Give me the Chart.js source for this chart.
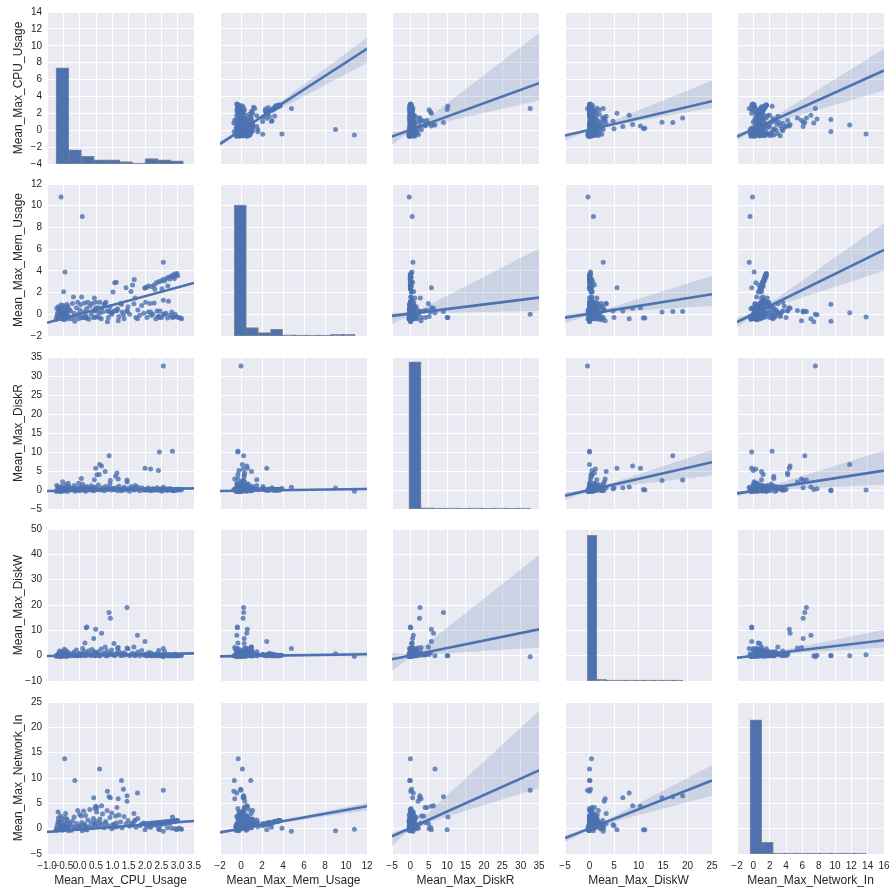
<!DOCTYPE html>
<html>
<head>
<meta charset="utf-8">
<script src="https://cdn.jsdelivr.net/npm/chart.js@4.4.1/dist/chart.umd.min.js"></script>
<style>
  body { margin: 0; background: #fff; width: 895px; height: 893px; position: relative; overflow: hidden; }
  canvas { position: absolute; }
</style>
</head>
<body>
<script>
// variable order everywhere: cpu, mem, diskR, diskW, networkIn
const varNames = ['Mean_Max_CPU_Usage', 'Mean_Max_Mem_Usage', 'Mean_Max_DiskR', 'Mean_Max_DiskW', 'Mean_Max_Network_In'];

// x axis of each column, y axis of each row
const colMin = [-1, -2, -5, -5, -2];
const colMax = [3.5, 12, 35, 25, 16];
const colStep = [0.5, 2, 5, 5, 2];
const rowMin = [-4, -2, -5, -10, -5];
const rowMax = [14, 12, 35, 50, 25];
const rowStep = [2, 2, 5, 10, 5];

// diagonal histograms (bar heights above the bottom of the axis)
const histStart = [-0.725, -0.64, -0.4, -0.45, -0.4];
const histWidth = [0.39, 1.15, 3.3, 1.95, 1.42];
const cpuHist = [11.4, 1.67, 0.92, 0.48, 0.48, 0.28, 0.12, 0.63, 0.5, 0.38];
const memHist = [12.05, 0.77, 0.31, 0.62, 0.1, 0.09, 0.09, 0.09, 0.15, 0.15];
const diskRHist = [38.7, 0.3, 0.26, 0.26, 0.26, 0.26, 0.26, 0.26, 0.26, 0.26];
const diskWHist = [57.5, 0.7, 0.39, 0.39, 0.39, 0.39, 0.39, 0.39, 0.39, 0.39];
const netHist = [26.5, 2.3, 0.2, 0.2, 0.2, 0.2, 0.2, 0.2, 0.2, 0.2];
const hists = [cpuHist, memHist, diskRHist, diskWHist, netHist];

// samples [cpu, mem, diskR, diskW, networkIn]
const outliers = [
  [-0.57, 10.8, -0.3, -0.3, -0.1], [0.08, 9.0, 0.5, 0.8, -0.4], [2.56, 4.8, 0.7, 2.8, -0.5],
  [-0.45, 3.9, 0.4, 0.2, 0.1], [2.56, 0.0, 32.6, -0.4, 7.6], [2.84, -0.3, 10.2, 0.0, 2.3],
  [2.44, -0.3, 10.0, 0.0, -0.2], [0.9, 0.25, 9.0, 17.0, 6.3], [1.45, 0.25, 2.6, 19.0, 6.5],
  [0.94, 0.2, 2.5, 14.8, 6.1], [0.2, -0.35, 0.1, 11.0, -0.2], [0.22, -0.35, 0.0, 11.3, -0.2],
  [0.49, 0.6, 5.7, 10.4, 4.4], [0.67, 0.55, 6.3, 8.8, 4.5], [1.77, -0.4, 0.8, 8.1, 7.05],
  [0.43, 0.3, 0.6, 6.8, 6.1], [2.0, 2.45, 5.7, 5.6, -0.2], [0.16, -0.3, 0.5, 5.0, 0.6],
  [1.05, 0.3, 0.3, 4.8, 0.8], [-0.46, -0.26, 0.0, 0.4, 13.8], [0.61, 0.13, 6.7, 0.0, 11.8],
  [-0.15, -0.64, 0.0, 0.0, 9.5], [1.28, 0.93, -0.2, 0.1, 9.5], [0.85, -0.68, 0.1, 0.0, 7.4],
  [1.34, -0.04, 0.3, 0.2, 7.8], [1.45, 0.35, 2.1, 3.0, 5.4], [1.18, -0.6, 2.9, 3.2, 5.9],
  [0.53, 0.3, 4.0, 0.5, 4.2], [0.47, -0.3, 0.2, 0.0, 4.0], [0.98, 0.1, 0.4, 0.6, 3.1],
  [1.14, 0.35, 4.5, 1.0, 4.2], [2.17, 0.2, 5.5, 1.2, 0.3], [2.41, -0.2, 5.1, 0.5, 0.0],
  [0.78, 1.0, 4.9, 3.4, 1.0], [1.1, 0.3, 3.6, 0.4, 2.5], [0.6, -0.3, 4.1, 0.3, 1.2],
  [0.05, -0.3, 3.0, 0.2, 2.5], [-0.03, 0.0, 1.8, 0.0, 0.5], [0.45, 1.5, 2.7, 1.5, 1.0],
  [-0.49, 2.07, 0.3, 0.5, 0.6]
];
const lowCpu = [
  [-0.72, -0.45, -0.3, -0.2, -0.3], [-0.70, -0.2, -0.2, 0.1, 0.2], [-0.68, 0.1, 0.0, 0.3, 0.8],
  [-0.66, 0.45, 0.3, 0.6, 1.4], [-0.65, 0.7, 0.5, 0.2, 2.1], [-0.63, -0.4, -0.4, -0.3, -0.2],
  [-0.61, 0.0, 0.2, 0.9, 0.5], [-0.60, 0.3, -0.1, 1.2, 1.0], [-0.58, 0.6, 0.6, 0.0, 2.5],
  [-0.56, -0.3, 0.0, 0.4, 0.0], [-0.55, 0.15, 1.0, 1.6, 1.8], [-0.53, 0.5, -0.3, -0.1, -0.3],
  [-0.51, -0.45, 0.3, 0.2, 0.3], [-0.50, 0.8, 0.1, 0.7, 1.2], [-0.48, 0.25, -0.2, -0.2, 0.6],
  [-0.46, -0.1, 0.4, 1.0, 2.2], [-0.44, 0.6, 0.0, 0.1, -0.1], [-0.42, -0.35, 1.4, 2.0, 0.9],
  [-0.40, 0.35, 0.2, -0.3, 0.2], [-0.38, 0.05, -0.4, 0.5, 1.6], [-0.36, 0.7, 0.6, 1.3, 0.4],
  [-0.34, -0.2, 0.0, 0.0, -0.4], [-0.32, 0.45, 0.9, 0.3, 1.1], [-0.70, 0.55, 1.2, 0.0, 0.0],
  [-0.66, -0.1, 0.8, 0.5, 3.3], [-0.62, 0.2, 0.4, 1.8, 1.3], [-0.57, 0.85, -0.2, 0.6, 0.7],
  [-0.52, 0.0, 2.2, 0.2, 0.1], [-0.47, -0.5, -0.1, 2.5, 0.5], [-0.43, 0.15, 0.5, 0.8, 3.0],
  [-0.39, 0.9, 0.2, 0.0, 1.9], [-0.35, -0.4, 1.8, 1.1, 0.3]
];
const nearZeroCpu = [
  [-0.28, 0.3, 0.1, 0.4, 0.8], [-0.25, -0.4, 0.0, 0.0, -0.3], [-0.22, 1.0, 0.4, 0.8, 1.5],
  [-0.19, 1.6, 0.2, 0.3, 0.4], [-0.17, 0.1, 1.2, 1.4, 2.3], [-0.14, -0.2, -0.3, 0.2, 0.2],
  [-0.10, 0.6, 0.6, 2.2, 1.0], [-0.06, 1.1, 0.0, 0.0, 3.6], [-0.03, -0.4, 0.3, 0.6, 0.1],
  [0.0, 0.4, -0.2, 1.0, 2.8], [0.03, 0.9, 0.8, 0.0, 0.6], [0.06, 1.6, 0.1, 0.5, 1.2],
  [0.09, -0.3, 1.5, 2.8, 0.0], [0.12, 0.2, 0.0, 0.2, 3.5], [0.15, 1.05, 0.4, 1.6, 0.9],
  [0.18, -0.1, -0.3, 0.0, 2.6], [0.21, 0.5, 0.9, 0.9, 0.3], [0.25, 1.1, 0.2, 0.3, 1.7],
  [0.28, -0.45, 0.5, 1.9, 0.4], [0.31, 0.75, 0.0, 0.5, 3.8], [0.35, 0.0, 1.1, 0.0, 1.2],
  [0.38, 1.0, 0.3, 2.4, 0.2], [0.42, -0.3, -0.2, 0.8, 2.0], [0.46, 0.4, 0.7, 0.1, 0.7],
  [0.49, 1.1, 0.0, 1.2, 1.5]
];
const midCpu = [
  [0.52, -0.2, 0.4, 0.3, 3.3], [0.57, 0.6, 1.3, 1.5, 0.5], [0.62, 1.1, 0.0, 0.0, 1.9],
  [0.66, -0.4, 0.2, 2.6, 0.9], [0.70, 0.2, 0.6, 0.6, 2.9], [0.75, 0.9, -0.2, 1.0, 0.2],
  [0.80, 1.1, 0.9, 0.0, 1.4], [0.84, 0.3, 0.1, 1.8, 3.6], [0.88, -0.3, 0.5, 0.4, 0.6],
  [0.93, 0.7, 1.6, 0.9, 2.2], [0.98, 0.0, 0.0, 2.2, 0.0], [1.02, 2.05, 0.3, 0.3, 0.8],
  [1.07, 2.9, 0.1, 0.1, 0.3], [1.12, 2.95, 0.6, 0.7, 1.1], [1.16, 0.5, -0.2, 2.9, 0.4],
  [1.20, -0.2, 1.0, 1.6, 2.7], [1.25, 1.0, 0.2, 0.2, 1.3], [1.30, 0.2, 0.0, 0.8, 0.2],
  [1.36, -0.4, 0.7, 1.2, 2.4], [1.42, 2.45, 0.0, 0.4, 0.9], [1.48, 0.7, 0.4, 2.7, 1.6],
  [1.53, 0.0, -0.3, 0.0, 0.5], [1.57, 2.1, 0.9, 0.5, 1.0], [1.62, 2.7, 0.2, 1.0, 0.7],
  [1.67, 3.2, 0.0, 0.2, 1.4], [1.66, 0.97, 0.5, 3.4, 3.0], [1.72, -0.3, 0.1, 0.6, 0.3],
  [1.78, 0.4, 0.3, 1.4, 2.0], [1.84, -0.1, -0.2, 0.0, 0.6], [1.90, 0.8, 0.6, 2.0, 0.9],
  [1.96, 0.1, 0.0, 0.3, 1.1], [1.70, 1.5, 1.2, 0.0, 1.7]
];
const highCpu = [
  [2.02, 1.1, 0.2, 0.5, 0.9], [2.06, -0.3, 0.0, 0.0, 0.4], [2.10, 0.2, 0.5, 1.2, 0.8],
  [2.15, 1.0, 0.0, 0.3, 1.0], [2.19, -0.1, -0.2, 0.0, 0.5], [2.24, 0.0, 0.3, 0.6, 0.9],
  [2.28, 1.05, 0.1, 0.1, 1.1], [2.33, -0.4, 0.0, 0.0, 0.7], [2.37, 0.3, 0.6, 0.9, 1.0],
  [2.42, -0.2, 0.0, 2.0, 1.2], [2.46, 0.3, 0.2, 0.2, 0.6], [2.51, -0.3, -0.3, 0.0, 1.1],
  [2.56, 1.3, 0.4, 0.5, 1.2], [2.60, 0.0, 0.0, 1.5, 0.9], [2.64, 0.1, 0.3, 0.1, 1.3],
  [2.69, -0.35, 0.0, 0.0, 0.2], [2.72, 1.2, 0.1, 0.4, 1.4], [2.77, -0.1, 0.4, 0.0, 1.0],
  [2.82, 0.2, 0.0, 0.3, 0.1], [2.87, -0.25, -0.2, 0.0, 1.5], [2.92, 0.0, 0.1, 0.6, 0.0],
  [2.97, -0.25, 0.0, 0.0, -0.2], [3.03, -0.3, 0.2, 0.1, 0.1], [3.09, -0.35, 0.0, 0.0, 0.0],
  [3.12, -0.4, 0.1, 0.2, -0.1]
];
const highCpuMem = [
  [2.00, 2.4, 0.0, 0.3, 0.9], [2.05, 2.5, 0.1, 0.0, 1.0], [2.10, 2.6, 0.0, 0.2, 1.0],
  [2.20, 2.55, 0.2, 0.0, 1.1], [2.28, 2.7, 0.0, 0.4, 1.1], [2.35, 2.9, 0.1, 0.0, 1.2],
  [2.42, 3.0, 0.0, 0.2, 1.2], [2.48, 3.05, 0.2, 0.0, 1.25], [2.55, 3.2, 0.0, 0.5, 1.3],
  [2.60, 3.1, 0.1, 0.0, 1.3], [2.66, 3.3, 0.0, 0.1, 1.35], [2.72, 3.4, 0.2, 0.0, 1.4],
  [2.76, 3.25, 0.0, 0.3, 1.4], [2.80, 3.5, 0.1, 0.0, 1.45], [2.84, 3.6, 0.0, 0.2, 1.5],
  [2.88, 3.45, 0.0, 0.0, 1.5], [2.91, 3.7, 0.1, 0.1, 1.55], [2.95, 3.65, 0.0, 0.0, 1.55],
  [2.98, 3.75, 0.2, 0.2, 1.6], [3.00, 3.55, 0.0, 0.0, 1.6], [2.52, 2.35, 0.0, 0.0, 1.0],
  [2.30, 2.3, 0.1, 0.1, 0.8], [2.70, 2.6, 0.0, 0.3, 1.2], [2.90, 3.3, 0.0, 0.0, 1.4]
];
const samples = [...lowCpu, ...nearZeroCpu, ...midCpu, ...highCpu, ...highCpuMem, ...outliers];

// regression fit: y at the left / right edge of each panel
const fitEnds = [
  [null, [-1.62, 9.64], [-0.75, 5.57], [-0.63, 3.44], [-0.75, 7.07]],
  [[-0.78, 2.89], null, [-0.15, 1.54], [-0.31, 1.85], [-0.71, 5.94]],
  [[-0.26, 0.44], [-0.26, 0.26], null, [-1.5, 7.3], [-0.9, 5.1]],
  [[-0.13, 0.92], [-0.26, 0.53], [-1.45, 10.4], null, [-0.8, 6.07]],
  [[-0.65, 1.5], [-0.73, 4.42], [-1.5, 11.5], [-1.85, 9.5], null]
];
// confidence band [low, high] at the left and right edges, and where it is narrowest
const bandLeft = [
  [null, [-1.95, -1.3], [-1.7, -0.24], [-1.2, -0.43], [-1.23, -0.36]],
  [[-0.88, -0.68], null, [-0.92, 0.15], [-0.83, 0.0], [-1.23, -0.31]],
  [[-0.5, -0.05], [-0.6, 0.1], null, [-2.6, -0.6], [-1.76, -0.35]],
  [[-0.6, 0.3], [-0.8, 0.3], [-6.0, 1.0], null, [-1.45, -0.1]],
  [[-0.85, -0.45], [-1.0, -0.45], [-3.4, -0.8], [-2.7, -1.3], null]
];
const bandRight = [
  [null, [7.98, 10.95], [3.52, 11.5], [2.65, 5.9], [4.7, 9.65]],
  [[2.75, 3.02], null, [0.31, 6.06], [0.77, 3.54], [4.0, 8.4]],
  [[0.2, 0.7], [-0.2, 0.7], null, [3.8, 10.5], [1.4, 10.4]],
  [[0.5, 1.3], [-0.3, 1.4], [3.2, 39.7], null, [3.2, 10.2]],
  [[1.2, 1.8], [3.6, 5.1], [8.0, 23.2], [6.5, 12.5], null]
];
const bandNarrow = [
  [null, 0.5, 1, 1, 0.5],
  [1, null, 0.8, 0.8, 0.5],
  [1, 0.5, null, 0.8, 0.5],
  [1, 0.5, 0.5, null, 0.5],
  [1, 0.5, 0.5, 0.8, null]
];

// layout
const colLeft = [47, 220, 392, 565, 737];
const rowTop = [12, 184, 357, 529, 702];
const cellW = 147, cellH = 152;
const leftGutter = 47, bottomGutter = 39;
const margin = 14; // room for tick labels that hang over the panel edges

const blue = '#4C72B0';
const textColor = '#262626';
const fontFamily = '"Liberation Sans", Arial, Helvetica, sans-serif';

const panelBg = {
  id: 'panelBg',
  beforeDraw(chart) {
    const { ctx, chartArea: a } = chart;
    ctx.save();
    ctx.fillStyle = '#EAEAF2';
    ctx.fillRect(a.left, a.top, a.right - a.left, a.bottom - a.top);
    ctx.restore();
  }
};

function tickLabel(v, step) {
  if (Math.abs(v) < 1e-9) v = 0;
  const s = step < 1 ? v.toFixed(1) : String(Math.round(v));
  return s.replace('-', '\u2212');
}

function axis(min, max, step, show, title, horizontal) {
  return {
    type: 'linear', min, max, offset: false,
    ticks: {
      stepSize: step, autoSkip: false, maxRotation: 0, minRotation: 0,
      display: show, padding: horizontal ? 6 : 5, color: textColor,
      font: { family: fontFamily, size: 10 },
      callback: v => tickLabel(v, step)
    },
    grid: { color: '#ffffff', lineWidth: 1, drawTicks: false, offset: false },
    border: { display: false },
    title: {
      display: show, text: title, color: textColor,
      font: { family: fontFamily, size: 12 },
      padding: horizontal ? { top: 0, bottom: 5 } : { top: 11, bottom: 0 }
    },
    afterFit: s => {
      if (horizontal) s.height = show ? bottomGutter : 0;
      else s.width = show ? leftGutter : 0;
      s.paddingLeft = 0; s.paddingRight = 0;
      s.paddingTop = 0; s.paddingBottom = 0;
    }
  };
}

function bandPoints(r, c) {
  const x0 = colMin[c], x1 = colMax[c], xm = bandNarrow[r][c];
  const [yL, yR] = fitEnds[r][c];
  const fit = x => yL + (yR - yL) * (x - x0) / (x1 - x0);
  const upL = bandLeft[r][c][1] - yL, loL = yL - bandLeft[r][c][0];
  const upR = bandRight[r][c][1] - yR, loR = yR - bandRight[r][c][0];
  const h0 = 0.25 * Math.min(upL, loL, upR, loR);
  const spread = (e, t) => {
    const ee = Math.max(e, h0);
    return Math.sqrt(h0 * h0 + t * t * (ee * ee - h0 * h0));
  };
  const upper = [], lower = [];
  for (let i = 0; i <= 40; i++) {
    const x = x0 + (x1 - x0) * i / 40;
    const right = x >= xm;
    const t = right ? (x - xm) / (x1 - xm) : (xm - x) / (xm - x0);
    upper.push({ x, y: fit(x) + spread(right ? upR : upL, t) });
    lower.push({ x, y: fit(x) - spread(right ? loR : loL, t) });
  }
  return { upper, lower };
}

function makePanel(r, c) {
  const isLeft = c === 0, isBottom = r === 4;
  const w = cellW + (isLeft ? leftGutter : 0) + 2 * margin;
  const h = cellH + (isBottom ? bottomGutter : 0) + 2 * margin;
  const canvas = document.createElement('canvas');
  canvas.width = w; canvas.height = h;
  canvas.style.width = w + 'px'; canvas.style.height = h + 'px';
  canvas.style.left = ((isLeft ? 0 : colLeft[c]) - margin) + 'px';
  canvas.style.top = (rowTop[r] - margin) + 'px';
  document.body.appendChild(canvas);

  let datasets;
  if (r === c) {
    const heights = hists[c];
    datasets = [{
      type: 'bar',
      data: heights.map((hgt, i) => ({
        x: histStart[c] + histWidth[c] * (i + 0.5),
        y: [rowMin[r], rowMin[r] + hgt]
      })),
      backgroundColor: blue,
      borderColor: 'rgba(45,50,65,0.55)',
      borderWidth: 1,
      borderSkipped: false,
      barPercentage: 1,
      categoryPercentage: 1,
      grouped: false
    }];
  } else {
    const [yL, yR] = fitEnds[r][c];
    const band = bandPoints(r, c);
    datasets = [
      {
        type: 'line',
        data: [{ x: colMin[c], y: yL }, { x: colMax[c], y: yR }],
        borderColor: blue, borderWidth: 2.6, pointRadius: 0, fill: false, order: 0
      },
      {
        type: 'line', data: band.upper, borderColor: 'transparent', borderWidth: 0,
        pointRadius: 0, fill: '+1', backgroundColor: 'rgba(76,114,176,0.2)', order: 1
      },
      {
        type: 'line', data: band.lower, borderColor: 'transparent', borderWidth: 0,
        pointRadius: 0, fill: false, order: 1
      },
      {
        type: 'scatter',
        data: samples.map(s => ({ x: s[c], y: s[r] })),
        pointRadius: 2.5, pointBackgroundColor: 'rgba(76,114,176,0.8)',
        pointBorderWidth: 0, backgroundColor: 'rgba(76,114,176,0.8)', order: 2
      }
    ];
  }

  new Chart(canvas, {
    type: r === c ? 'bar' : 'scatter',
    data: { datasets },
    options: {
      responsive: false,
      maintainAspectRatio: false,
      animation: false,
      events: [],
      layout: { padding: margin, autoPadding: false },
      plugins: { legend: { display: false }, tooltip: { enabled: false } },
      scales: {
        x: axis(colMin[c], colMax[c], colStep[c], isBottom, varNames[c], true),
        y: axis(rowMin[r], rowMax[r], rowStep[r], isLeft, varNames[r], false)
      }
    },
    plugins: [panelBg]
  });
}

for (let r = 0; r < 5; r++) {
  for (let c = 0; c < 5; c++) makePanel(r, c);
}
</script>
</body>
</html>
